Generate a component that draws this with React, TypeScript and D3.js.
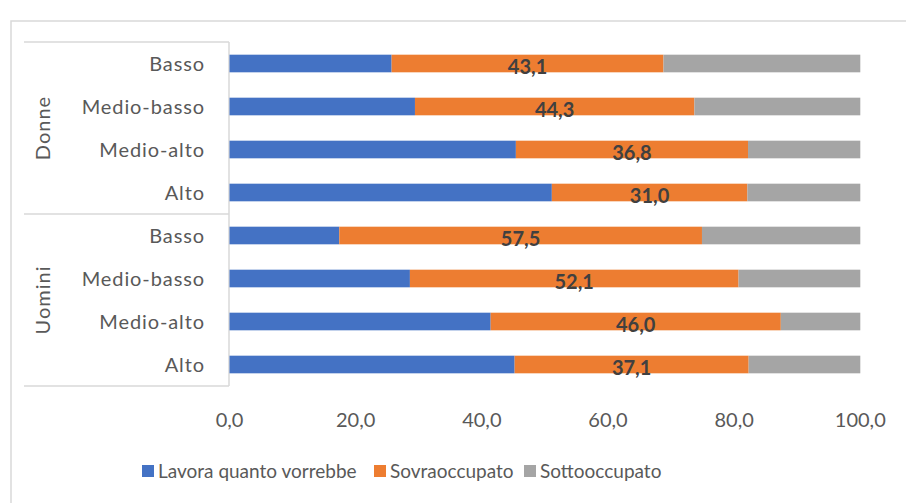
import React from "react";
import * as d3 from "d3";

const groups = ["Donne", "Uomini"];
const levels = ["Basso", "Medio-basso", "Medio-alto", "Alto"];
const seriesNames = ["Lavora quanto vorrebbe", "Sovraoccupato", "Sottooccupato"];
const seriesColors = ["#4472C4", "#ED7D31", "#A5A5A5"];
// order: Donne Basso..Alto, Uomini Basso..Alto
const lavora = [25.7, 29.4, 45.4, 51.1, 17.4, 28.6, 41.4, 45.2];
const sovra = [43.1, 44.3, 36.8, 31.0, 57.5, 52.1, 46.0, 37.1];
const sotto = [31.2, 26.3, 17.8, 17.9, 25.1, 19.3, 12.6, 17.7];
const xTicks = [0, 20, 40, 60, 80, 100];

const W = 906;
const H = 503;
const FONT = "Lato, 'Open Sans', sans-serif";

export default function App() {
  const rows = groups.flatMap((g, gi) =>
    levels.map((l, li) => ({ id: `${g}-${l}`, group: g, level: l, i: gi * levels.length + li }))
  );
  const x = d3.scaleLinear().domain([0, 100]).range([229.5, 860.3]);
  const y = d3
    .scaleBand<string>()
    .domain(rows.map((r) => r.id))
    .range([42, 386])
    .paddingInner(0.59)
    .paddingOuter(0.295);
  const values = [lavora, sovra, sotto];
  const stack = rows.map((r) => {
    let acc = 0;
    return values.map((arr, si) => {
      const start = acc;
      acc += arr[r.i];
      return { si, start, end: acc, v: arr[r.i] };
    });
  });
  const lineColor = "#D9D9D9";
  const groupY = groups.map((g) => {
    const ids = rows.filter((r) => r.group === g).map((r) => r.id);
    const top = y(ids[0])! - (y.step() - y.bandwidth()) / 2;
    const bottom = y(ids[ids.length - 1])! + y.bandwidth() + (y.step() - y.bandwidth()) / 2;
    return { g, top, bottom };
  });
  const legendX = [142, 374, 524];
  return (
    <svg
      width={W}
      height={H}
      style={{ position: "absolute", left: 0, top: 0, background: "#fff" }}
      fontFamily={FONT}
    >
      <rect x={11} y={21} width={W} height={H} fill="#fff" stroke={lineColor} strokeWidth={1.5} />
      {/* category axis box */}
      <line x1={229} x2={229} y1={42} y2={386} stroke={lineColor} strokeWidth={1.5} />
      {groupY.map((gy, i) => (
        <g key={gy.g}>
          {i === 0 && <line x1={24} x2={229} y1={gy.top} y2={gy.top} stroke={lineColor} strokeWidth={1.5} />}
          <line x1={24} x2={229} y1={gy.bottom} y2={gy.bottom} stroke={lineColor} strokeWidth={1.5} />
          <text
            transform={`translate(50,${(gy.top + gy.bottom) / 2}) rotate(-90)`}
            textAnchor="middle"
            fontSize={20}
            fill="#595959"
            letterSpacing={1}
          >
            {gy.g}
          </text>
        </g>
      ))}
      {rows.map((r) => (
        <text
          key={r.id}
          x={205}
          y={y(r.id)! + y.bandwidth() / 2}
          dy="0.36em"
          textAnchor="end"
          fontSize={20}
          fill="#595959"
          letterSpacing={0.9}
        >
          {r.level}
        </text>
      ))}
      {rows.map((r, ri) =>
        stack[ri].map((s) => (
          <rect
            key={r.id + s.si}
            x={x(s.start)}
            y={y(r.id)!}
            width={x(Math.min(s.end, 100)) - x(s.start)}
            height={y.bandwidth()}
            fill={seriesColors[s.si]}
          />
        ))
      )}
      {rows.map((r, ri) => {
        const s = stack[ri][1];
        return (
          <text
            key={r.id + "lbl"}
            x={(x(s.start) + x(s.end)) / 2}
            y={y(r.id)! + y.bandwidth() / 2 + 3}
            dy="0.36em"
            textAnchor="middle"
            fontSize={20}
            fontWeight="bold"
            fill="#404040"
          >
            {s.v.toFixed(1).replace(".", ",")}
          </text>
        );
      })}
      {xTicks.map((t) => (
        <text key={t} x={x(t)} y={427} textAnchor="middle" fontSize={20} fill="#595959">
          {t.toFixed(1).replace(".", ",")}
        </text>
      ))}
      {seriesNames.map((n, i) => (
        <g key={n}>
          <rect x={legendX[i]} y={465} width={12} height={12} fill={seriesColors[i]} />
          <text x={legendX[i] + 16} y={478} fontSize={19} fill="#595959">
            {n}
          </text>
        </g>
      ))}
    </svg>
  );
}
